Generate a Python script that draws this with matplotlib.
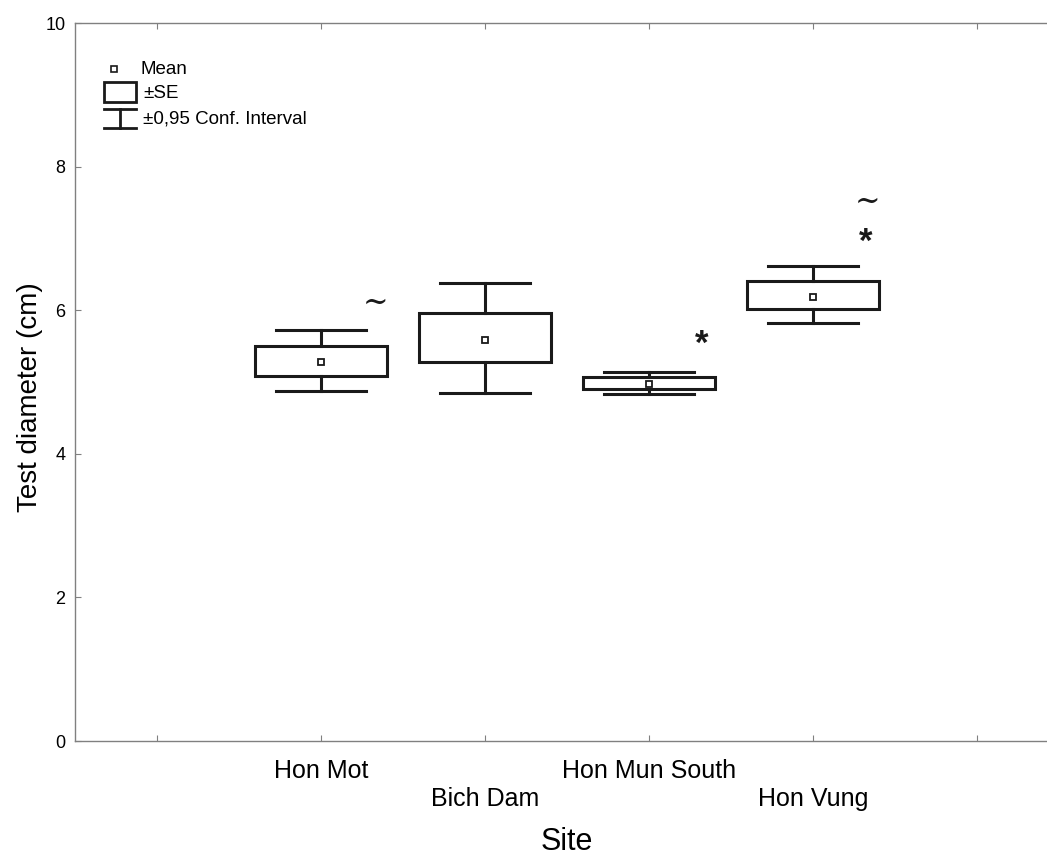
import matplotlib
matplotlib.use("Agg")
import matplotlib.pyplot as plt
from matplotlib.patches import Rectangle
from matplotlib.lines import Line2D

plt.rcParams['font.family'] = ['Liberation Sans', 'DejaVu Sans']

sites = ["Hon Mot", "Bich Dam", "Hon Mun South", "Hon Vung"]
means = [5.28, 5.59, 4.97, 6.19]
se_low = [5.08, 5.28, 4.90, 6.02]
se_high = [5.50, 5.96, 5.07, 6.41]
ci_low = [4.88, 4.85, 4.83, 5.83]
ci_high = [5.72, 6.38, 5.14, 6.62]
# significance marks: (site index, symbol, y)
marks = [(0, "~", 6.10), (2, "*", 5.52), (3, "~", 7.51), (3, "*", 6.95)]

W, H = 1047, 859
fig = plt.figure(figsize=(W / 100, H / 100), dpi=100)
ax = fig.add_axes([75 / W, 118 / H, (W - 75) / W, (741 - 23.3) / H])

positions = [1, 2, 3, 4]
box_w = 0.8
cap_w = 0.55
lw = 2.2
for x, m, sl, sh, cl, ch in zip(positions, means, se_low, se_high, ci_low, ci_high):
    ax.add_patch(Rectangle((x - box_w / 2, sl), box_w, sh - sl, fill=False,
                           edgecolor="#1a1a1a", linewidth=lw, zorder=3))
    ax.plot([x, x], [sh, ch], color="#1a1a1a", lw=lw, zorder=3)
    ax.plot([x, x], [cl, sl], color="#1a1a1a", lw=lw, zorder=3)
    ax.plot([x - cap_w / 2, x + cap_w / 2], [ch, ch], color="#1a1a1a", lw=lw, zorder=3)
    ax.plot([x - cap_w / 2, x + cap_w / 2], [cl, cl], color="#1a1a1a", lw=lw, zorder=3)
    ax.plot([x], [m], marker="s", markersize=5, markerfacecolor="white",
            markeredgecolor="#1a1a1a", markeredgewidth=1.3, zorder=4)

for i, sym, y in marks:
    if sym == "~":
        ax.text(positions[i] + 0.33, y, "~", fontsize=22, family="DejaVu Serif",
                ha="center", va="center", color="#1a1a1a")
    else:
        ax.text(positions[i] + 0.32, y, "*", fontsize=25, fontweight="bold",
                ha="center", va="center", color="#1a1a1a")

ax.set_xlim(-0.5, (W - 157) / 164.0)
ax.set_ylim(0, 10)
ax.set_yticks([0, 2, 4, 6, 8, 10])
ax.set_xticks([0, 1, 2, 3, 4, 5])
ax.set_xticklabels([""] + [s if k % 2 == 0 else "\n" + s for k, s in enumerate(sites)] + [""],
                   fontsize=18)
ax.tick_params(axis="y", labelsize=13, direction="in", length=4, color="#808080", pad=7)
ax.tick_params(axis="x", direction="in", length=4, color="#808080", pad=13,
               top=True)
for side in ["left", "bottom", "top"]:
    ax.spines[side].set_color("#808080")
    ax.spines[side].set_linewidth(1.0)
ax.spines["right"].set_visible(False)

fig.text(30 / W, 1 - 397 / H, "Test diameter (cm)", rotation=90, fontsize=20,
         ha="center", va="center")
fig.text(567 / W, 1 - 842 / H, "Site", fontsize=22, ha="center", va="center")

# legend drawn in figure pixel coordinates
def fx(px):
    return px / W

def fy(py):
    return 1 - py / H

fig.add_artist(Line2D([fx(114)], [fy(69)], marker="s", markersize=5,
                      markerfacecolor="white", markeredgecolor="#1a1a1a",
                      markeredgewidth=1.2, linestyle="none"))
fig.text(fx(140), fy(70), "Mean", fontsize=13.5, va="center")
fig.add_artist(Rectangle((fx(104), fy(102)), fx(32), (102 - 82) / H, fill=False,
                         edgecolor="#1a1a1a", linewidth=2.0, transform=fig.transFigure))
fig.text(fx(143), fy(93), "±SE", fontsize=13.5, va="center")
for yy in (109, 128):
    fig.add_artist(Line2D([fx(104), fx(136)], [fy(yy), fy(yy)], color="#1a1a1a", lw=2.0))
fig.add_artist(Line2D([fx(120), fx(120)], [fy(109), fy(128)], color="#1a1a1a", lw=2.0))
fig.text(fx(143), fy(119), "±0,95 Conf. Interval", fontsize=13.5, va="center")

fig.savefig("out.png", dpi=100)
